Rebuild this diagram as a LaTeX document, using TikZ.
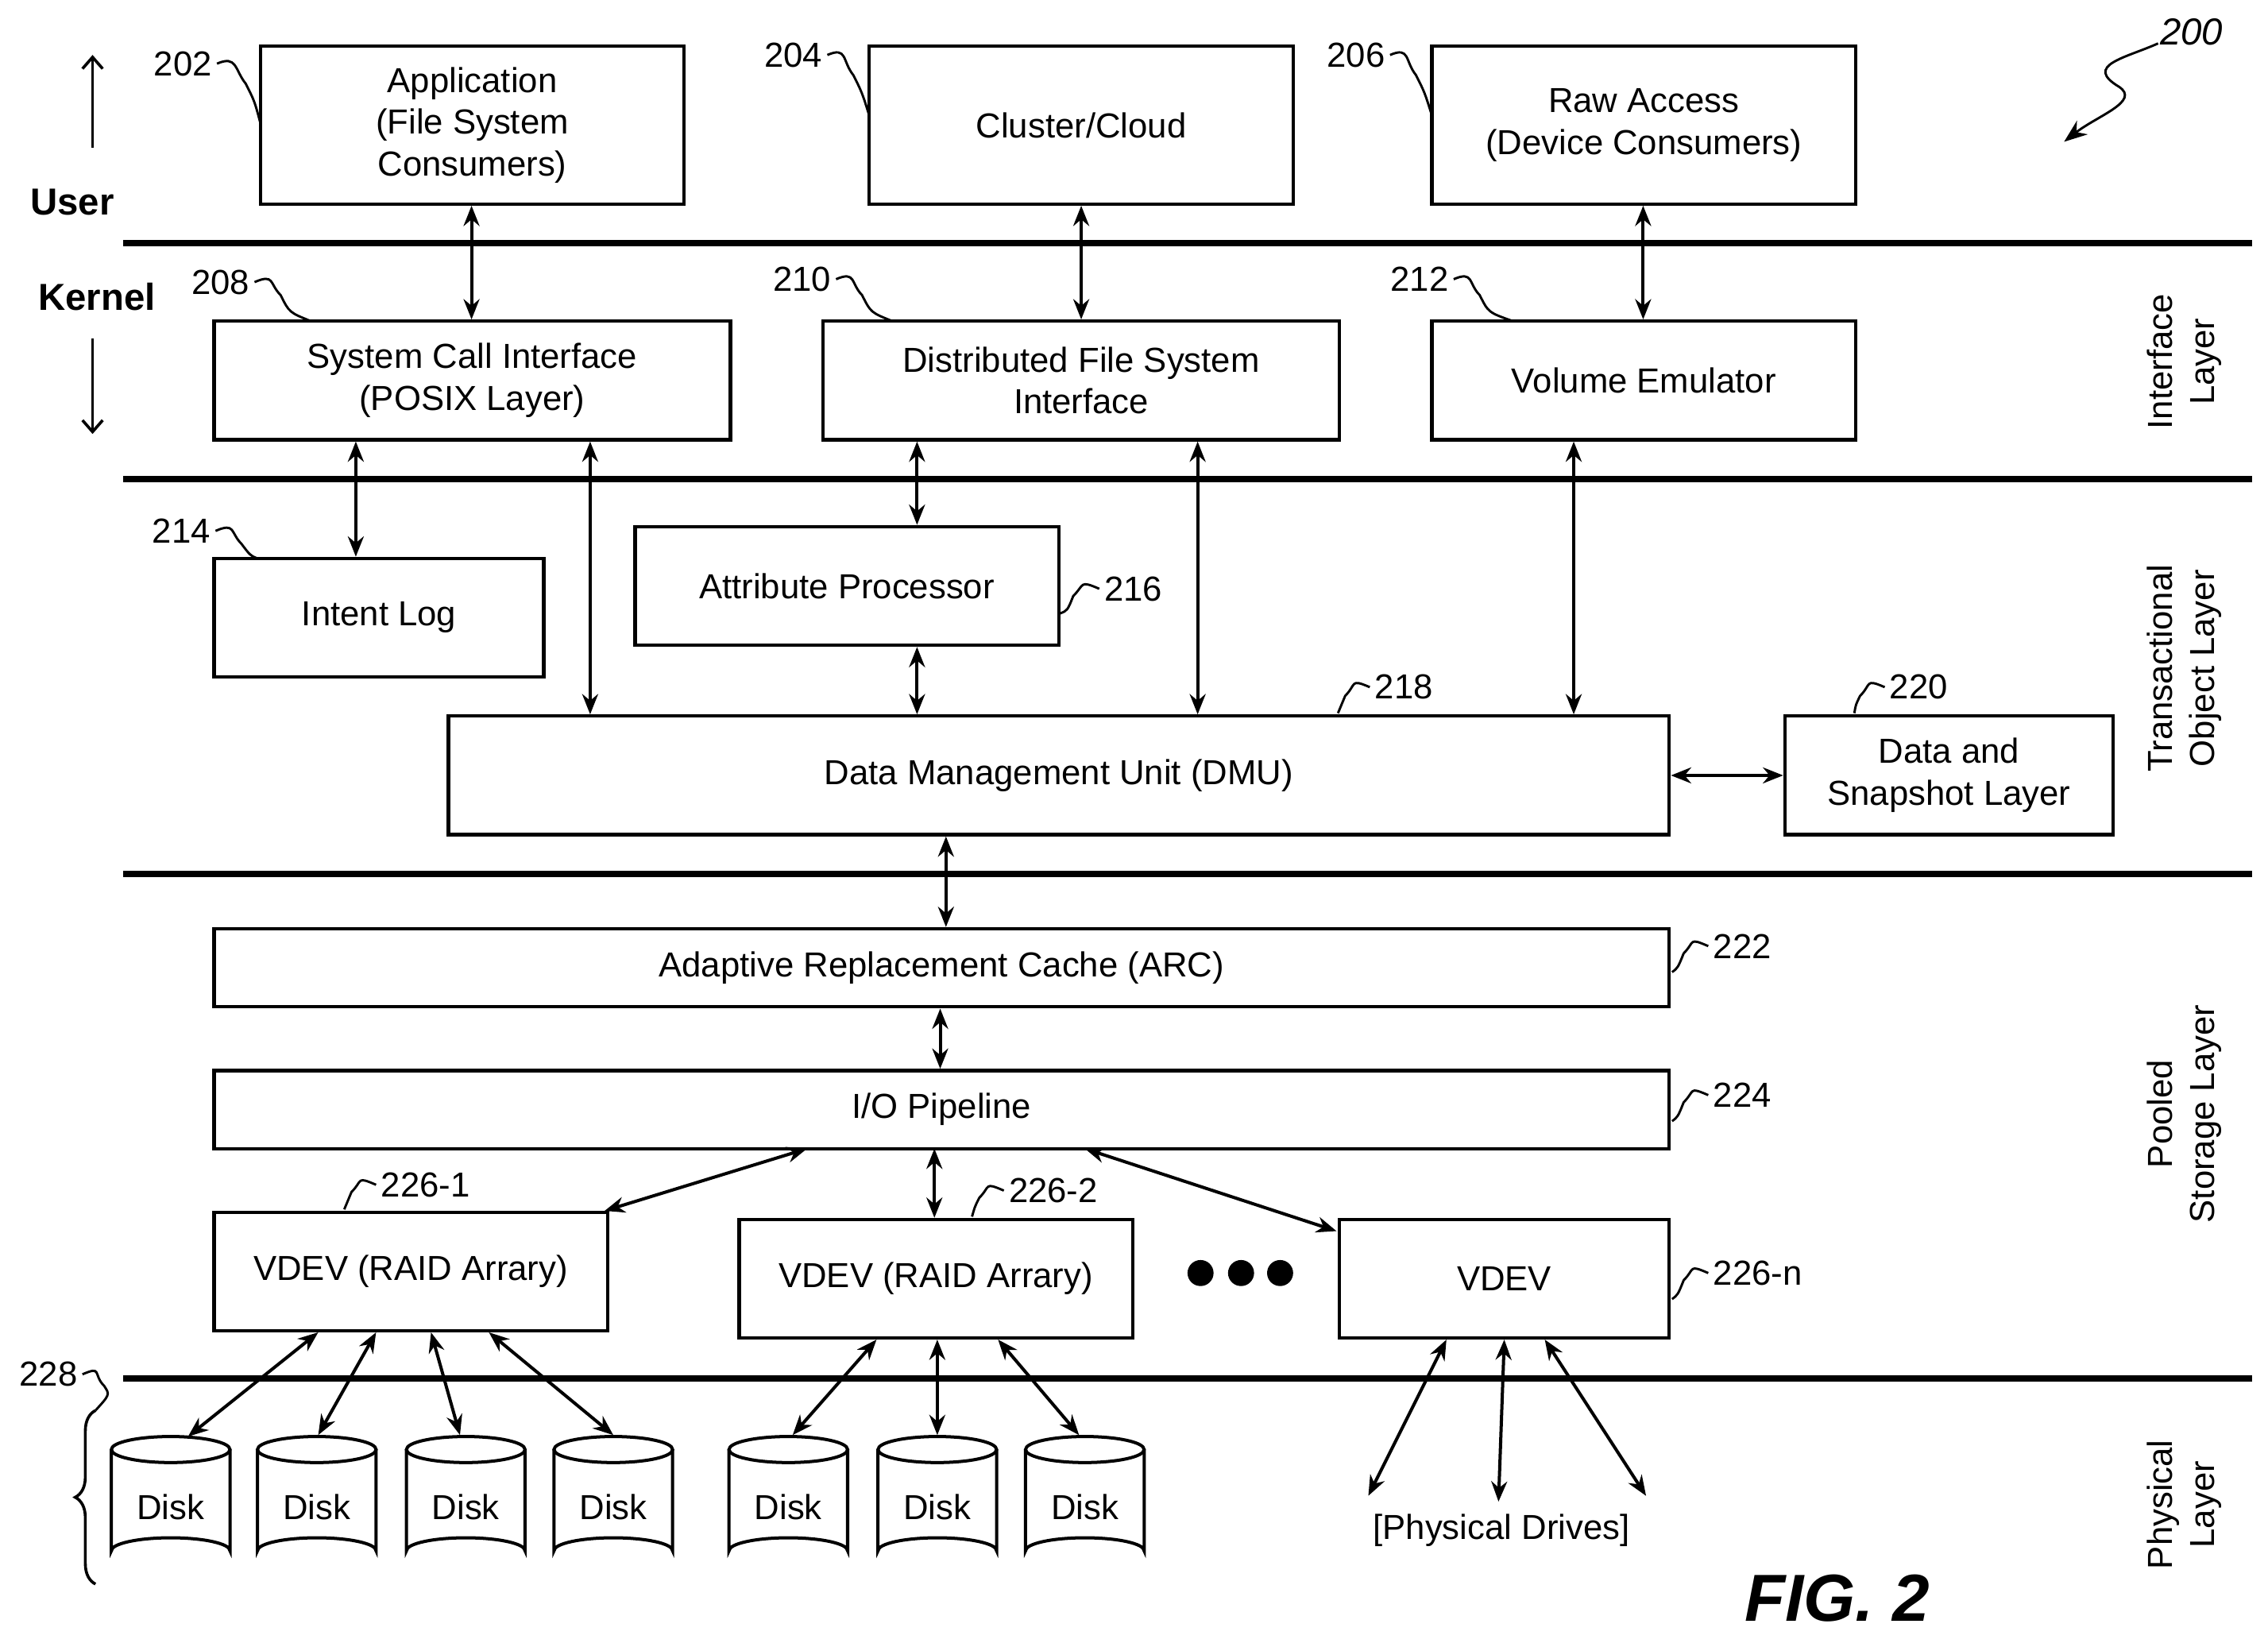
\documentclass[tikz,border=0pt]{standalone}
\usepackage{fontspec}
\setmainfont{Liberation Sans}
\usetikzlibrary{arrows.meta,decorations.pathreplacing}
\begin{document}
\begin{tikzpicture}[x=1pt,y=-1pt,
 box/.style={draw,line width=2.4pt,align=center,inner sep=0pt},
 sep/.style={line width=4.5pt},
 ar/.style={line width=2.2pt,{Stealth[length=14pt,width=11pt]}-{Stealth[length=14pt,width=11pt]}},
 lbl/.style={font=\fontsize{24}{28}\selectfont},
 lead/.style={line width=1.6pt},
 every node/.style={font=\fontsize{24}{29}\selectfont}]
\useasboundingbox (0,0) rectangle (1568,1138);
\def\bx#1#2#3#4#5#6{\node[box,minimum width=#4-#2,minimum height=#5-#3] (#1) at ({(#2+#4)/2},{(#3+#5)/2}) {#6};}
\bx{app}{180}{32}{473}{141}{Application\\(File System\\Consumers)}
\bx{cc}{601}{32}{894}{141}{Cluster/Cloud}
\bx{raw}{990}{32}{1283}{141}{Raw Access\\(Device Consumers)}
\bx{sci}{148}{222}{505}{304}{System Call Interface\\(POSIX Layer)}
\bx{dfs}{569}{222}{926}{304}{Distributed File System\\Interface}
\bx{vol}{990}{222}{1283}{304}{Volume Emulator}
\bx{il}{148}{386}{376}{468}{Intent Log}
\bx{ap}{439}{364}{732}{446}{Attribute Processor}
\bx{dmu}{310}{495}{1154}{577}{Data Management Unit (DMU)}
\bx{dsl}{1234}{495}{1461}{577}{Data and\\Snapshot Layer}
\bx{arc}{148}{642}{1154}{696}{Adaptive Replacement Cache (ARC)}
\bx{io}{148}{740}{1154}{794}{I/O Pipeline}
\bx{v1}{148}{838}{420}{920}{VDEV (RAID Arrary)}
\bx{v2}{511}{843}{783}{925}{VDEV (RAID Arrary)}
\bx{vn}{926}{843}{1154}{925}{VDEV}
% separators
\foreach \y in {168,331,604,953} \draw[sep] (85,\y) -- (1557,\y);
% arrows
\draw[ar] (app.south-|326,0) -- (sci.north-|326,0);
\draw[ar] (cc.south) -- (dfs.north);
\draw[ar] (raw.south-|1136,0) -- (vol.north-|1136,0);
\draw[ar] (sci.south-|246,0) -- (il.north-|246,0);
\draw[ar] (sci.south-|408,0) -- (dmu.north-|408,0);
\draw[ar] (dfs.south-|634,0) -- (ap.north-|634,0);
\draw[ar] (ap.south-|634,0) -- (dmu.north-|634,0);
\draw[ar] (dfs.south-|828,0) -- (dmu.north-|828,0);
\draw[ar] (vol.south-|1088,0) -- (dmu.north-|1088,0);
\draw[ar] (dmu.east) -- (dsl.west);
\draw[ar] (dmu.south-|654,0) -- (arc.north-|654,0);
\draw[ar] (arc.south-|650,0) -- (io.north-|650,0);
\coordinate (i1) at (558,794); \coordinate (i2) at (646,794); \coordinate (i3) at (750,794);
\draw[ar] (i1) -- (418,837);
\draw[ar] (i2) -- (v2.north-|646,0);
\draw[ar] (i3) -- (924,851);
\foreach \x in {830,858,885} \fill (\x,880) circle (9);
% disks
\foreach \n/\x in {d1/118,d2/219,d3/322,d4/424,d5/545,d6/648,d7/750}{
 \draw[line width=2.2pt,fill=white] (\x-41,1002) -- (\x-41,1072) arc[start angle=180,end angle=360,x radius=41,y radius=9] -- (\x+41,1002);
 \draw[line width=2.2pt] (\x,1002) ellipse[x radius=41,y radius=9];
 \node (\n) at (\x,1042) {Disk};
}
\draw[ar] (220,921) -- (130,993);
\draw[ar] (260,921) -- (220,992);
\draw[ar] (298,921) -- (318,992);
\draw[ar] (338,921) -- (424,992);
\draw[ar] (606,926) -- (548,992);
\draw[ar] (648,926) -- (648,992);
\draw[ar] (690,926) -- (746,992);
\node (pd) at (1038,1058) {[Physical Drives]};
\draw[ar] (1000,926) -- (946,1034);
\draw[ar] (1040,926) -- (1036,1038);
\draw[ar] (1068,926) -- (1138,1034);
\draw[line width=2pt,decorate,decoration={brace,amplitude=14pt}] (66,1095) -- (66,975);
% ref labels with leaders
\node[anchor=east] (l202) at (150,44) {202};
\draw[lead] (l202.east) .. controls +(14,-6) and +(-8,-10) .. (170,58) .. controls +(6,12) .. (180,85);
\node[anchor=east] (l204) at (572,38) {204};
\draw[lead] (l204.east) .. controls +(14,-6) and +(-8,-10) .. (590,52) .. controls +(6,12) .. (601,80);
\node[anchor=east] (l206) at (961,38) {206};
\draw[lead] (l206.east) .. controls +(14,-6) and +(-8,-10) .. (979,52) .. controls +(6,12) .. (990,80);
\node[anchor=east] (l208) at (176,195) {208};
\draw[lead] (l208.east) .. controls +(14,-6) and +(-8,-8) .. (194,204) .. controls +(6,12) .. (215,222);
\node[anchor=east] (l210) at (578,193) {210};
\draw[lead] (l210.east) .. controls +(14,-6) and +(-8,-8) .. (596,204) .. controls +(6,12) .. (617,222);
\node[anchor=east] (l212) at (1005,193) {212};
\draw[lead] (l212.east) .. controls +(14,-6) and +(-8,-8) .. (1023,204) .. controls +(6,12) .. (1046,222);
\node[anchor=east] (l214) at (149,367) {214};
\draw[lead] (l214.east) .. controls +(14,-6) and +(-8,-8) .. (167,376) .. controls +(6,8) .. (178,386);
\node[anchor=west] (l216) at (760,407) {216};
\draw[lead] (l216.west) .. controls +(-14,-6) and +(8,-8) .. (742,412) .. controls +(-4,10) .. (733,424);
\node[anchor=west] (l218) at (947,475) {218};
\draw[lead] (l218.west) .. controls +(-14,-6) and +(8,-8) .. (930,481) .. controls +(-3,6) .. (925,493);
\node[anchor=west] (l220) at (1303,475) {220};
\draw[lead] (l220.west) .. controls +(-14,-6) and +(8,-8) .. (1286,481) .. controls +(-3,6) .. (1282,493);
\node[anchor=west] (l222) at (1181,654) {222};
\draw[lead] (l222.west) .. controls +(-14,-6) and +(8,-8) .. (1164,659) .. controls +(-4,10) .. (1156,672);
\node[anchor=west] (l224) at (1181,757) {224};
\draw[lead] (l224.west) .. controls +(-14,-6) and +(8,-8) .. (1164,762) .. controls +(-4,10) .. (1156,775);
\node[anchor=west] (l2261) at (260,819) {226-1};
\draw[lead] (l2261.west) .. controls +(-14,-6) and +(8,-8) .. (243,824) .. controls +(-3,6) .. (238,836);
\node[anchor=west] (l2262) at (694,823) {226-2};
\draw[lead] (l2262.west) .. controls +(-14,-6) and +(8,-8) .. (677,828) .. controls +(-3,6) .. (672,841);
\node[anchor=west] (l226n) at (1181,880) {226-n};
\draw[lead] (l226n.west) .. controls +(-14,-6) and +(8,-8) .. (1164,885) .. controls +(-4,10) .. (1156,898);
\node[anchor=east] (l228) at (57,950) {228};
\draw[lead] (l228.east) .. controls +(14,-6) and +(-8,-8) .. (72,958) .. controls +(4,6) .. (66,975);
\node[font=\itshape\fontsize{26}{30}\selectfont] (l200) at (1515,22) {200};
\draw[lead,-{Stealth[length=16pt,width=12pt]}] (1492,30) .. controls (1470,40) and (1440,45) .. (1465,60) .. controls (1480,70) and (1450,80) .. (1427,98);
% user/kernel
\node[font=\bfseries\fontsize{26}{30}\selectfont] (user) at (50,140) {User};
\node[font=\bfseries\fontsize{26}{30}\selectfont] (kern) at (67,205) {Kernel};
\draw[line width=2pt,-{Straight Barb[length=8pt,width=14pt]}] (64,102) -- (64,38);
\draw[line width=2pt,-{Straight Barb[length=8pt,width=14pt]}] (64,234) -- (64,300);
% layer labels
\node[rotate=90,align=center] (la1) at (1510,250) {Interface\\Layer};
\node[rotate=90,align=center] (la2) at (1510,462) {Transactional\\Object Layer};
\node[rotate=90,align=center] (la3) at (1510,770) {Pooled\\Storage Layer};
\node[rotate=90,align=center] (la4) at (1510,1040) {Physical\\Layer};
\node[font=\bfseries\itshape\fontsize{46}{50}\selectfont] (fig) at (1270,1105) {FIG. 2};
\end{tikzpicture}
\end{document}
